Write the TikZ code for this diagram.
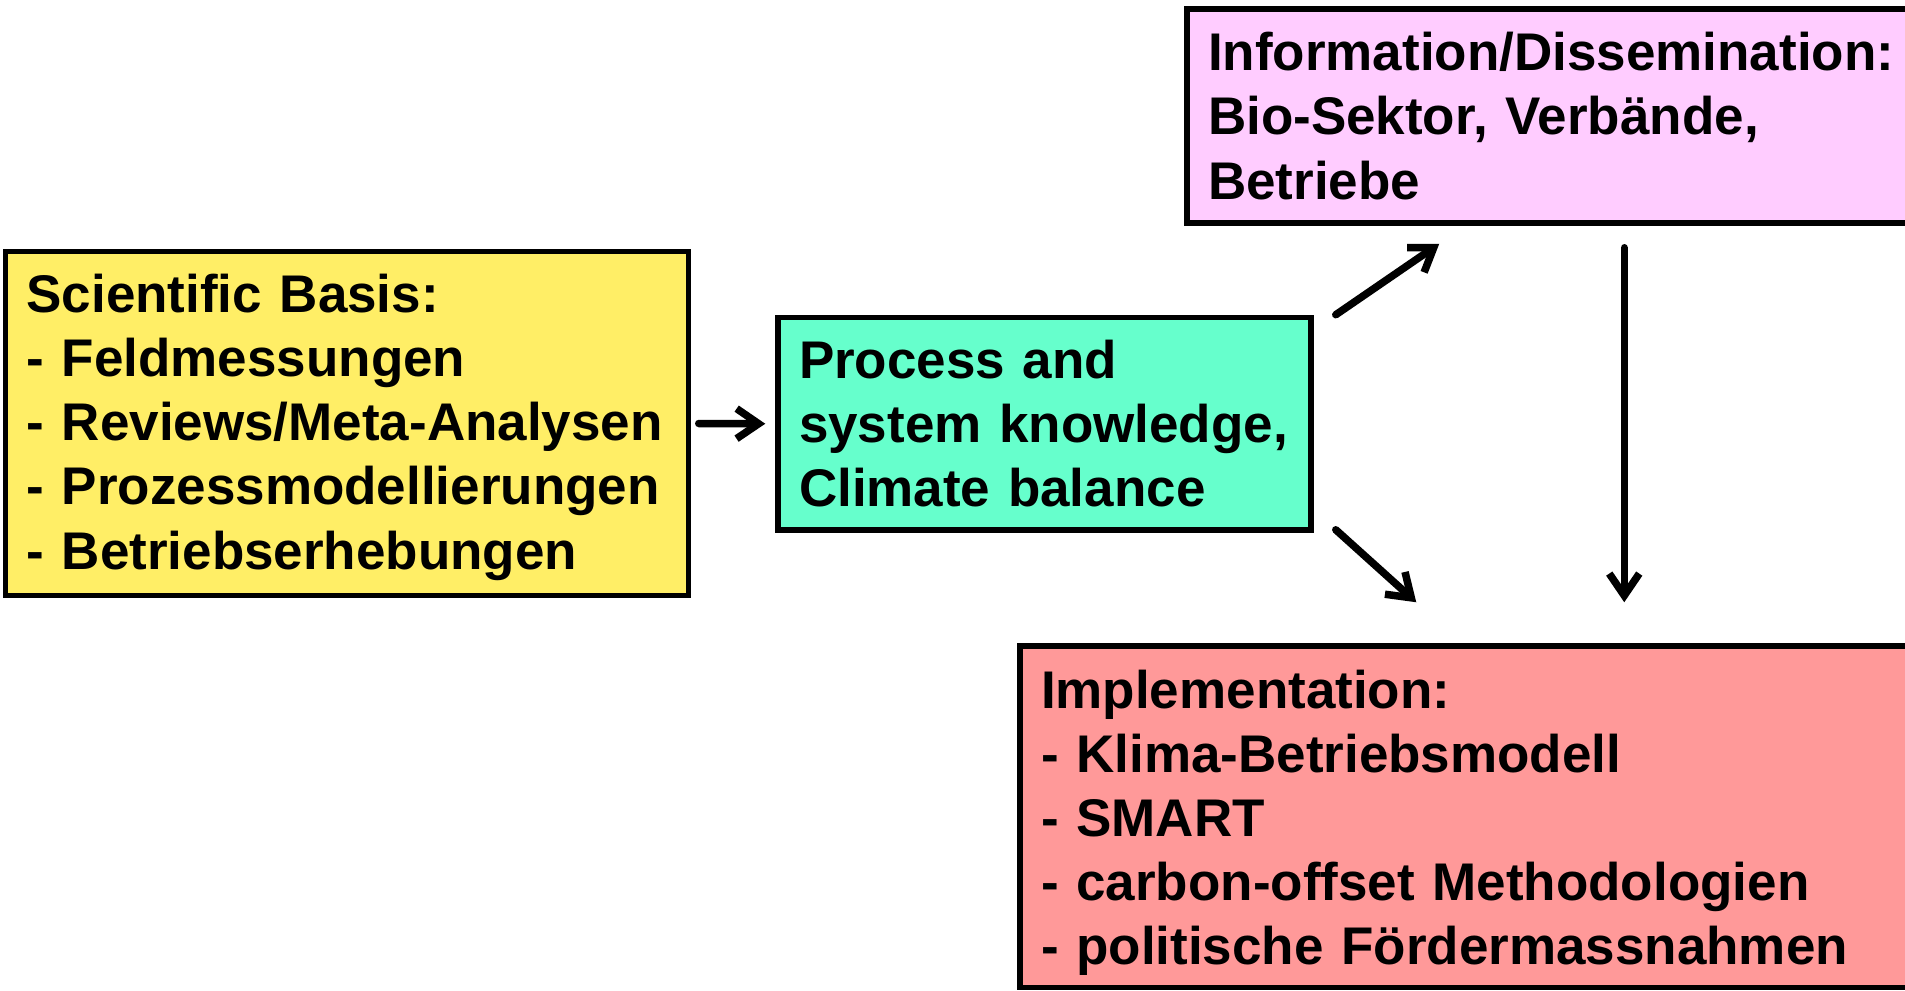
\documentclass[tikz,border=0pt]{standalone}
\usepackage{fontspec}
\setmainfont{Liberation Sans}
\usepackage{xcolor}
\usetikzlibrary{arrows.meta}
\definecolor{basisyellow}{HTML}{FFEE66}
\definecolor{knowgreen}{HTML}{66FFCC}
\definecolor{infopink}{HTML}{FFCCFF}
\definecolor{implred}{HTML}{FF9999}

\begin{document}
\begin{tikzpicture}[x=0.5pt,y=-0.5pt,
    box/.style={draw=black, line width=2.75pt, align=left, inner xsep=10.5pt, inner ysep=0pt,
      font=\fontsize{26.5pt}{32.1pt}\selectfont\bfseries},
    arr/.style={-{Straight Barb[length=11pt,width=15pt]}, line width=3.75pt, line cap=round, line join=round}]
  \useasboundingbox (0,0) rectangle (1905,990);
  \clip (0,0) rectangle (1905,990);
  \node[box, fill=basisyellow, text width=320.5pt, minimum height=172pt] (basis) at (347,423.5)
    {\rule{0pt}{22.9pt}Scientific Basis:\\- Feldmessungen\\- Reviews/Meta-Analysen\\- Prozessmodellierungen\\- Betriebserhebungen};
  \node[box, fill=knowgreen, text width=245.5pt, minimum height=106.25pt] (know) at (1044.5,423.75)
    {Process and\\system knowledge,\\Climate balance};
  \node[box, fill=infopink, text width=353pt, minimum height=107pt] (info) at (1561,116)
    {Information/Dissemination:\\Bio-Sektor, Verbände,\\Betriebe};
  \node[box, fill=implred, text width=436.5pt, minimum height=170.75pt] (impl) at (1477.5,816.75)
    {\rule{0pt}{25.3pt}Implementation:\\- Klima-Betriebsmodell\\- SMART\\- carbon-offset Methodologien\\- politische Fördermassnahmen};
  \draw[arr] ([xshift=3.75pt]basis.east) -- ([xshift=-5pt]know.west);
  \draw[arr] ([xshift=11pt]know.north east) -- ([xshift=127.5pt,yshift=-9pt]info.south west);
  \draw[arr] ([xshift=11pt,yshift=1.5pt]know.south east) -- ([xshift=199.5pt,yshift=20.5pt]impl.north west);
  \draw[arr] ([xshift=220pt,yshift=-11pt]info.south west) -- ([xshift=303.5pt,yshift=20.5pt]impl.north west);
\end{tikzpicture}
\end{document}
